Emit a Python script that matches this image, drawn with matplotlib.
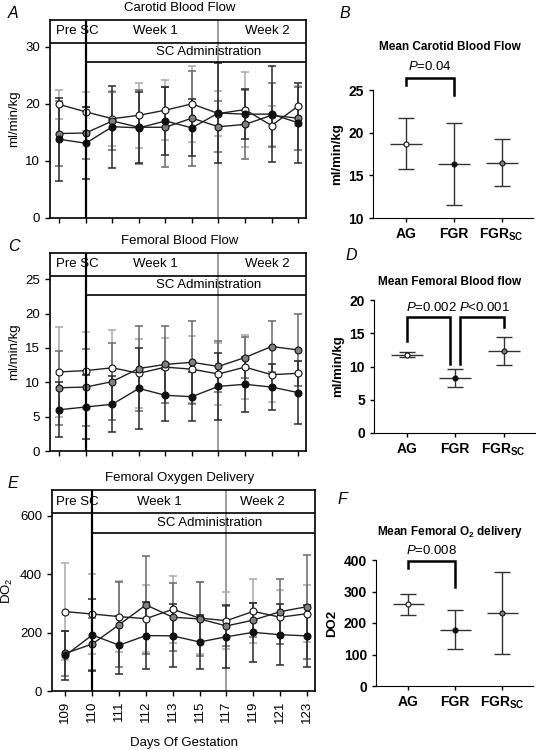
import numpy as np
import matplotlib
matplotlib.use("Agg")
import matplotlib.pyplot as plt

plt.rcParams['font.family'] = ['Liberation Sans', 'DejaVu Sans']
plt.rcParams['mathtext.fontset'] = 'custom'
plt.rcParams['mathtext.rm'] = 'Liberation Sans'
plt.rcParams['mathtext.it'] = 'Liberation Sans:italic'
plt.rcParams['mathtext.bf'] = 'Liberation Sans:bold'

# Data
days = ['109', '110', '111', '112', '113', '115', '117', '119', '121', '123']
groups = ['AG', 'FGR', r'FGR$_{\mathbf{SC}}$']

# Carotid blood flow (ml/min/kg)
car_ag = [19.9, 18.6, 17.4, 18.0, 18.9, 20.0, 18.3, 19.0, 16.2, 19.6]
car_ag_sd = [2.5, 3.4, 4.8, 5.7, 5.2, 6.6, 3.9, 6.5, 3.5, 3.5]
car_fgr = [13.8, 13.1, 16.0, 15.8, 17.0, 15.8, 18.4, 18.2, 18.2, 16.7]
car_fgr_sd = [7.3, 6.3, 7.2, 6.2, 6.0, 5.0, 8.8, 4.4, 8.4, 7.0]
car_sc = [14.8, 14.9, 17.0, 15.9, 15.9, 17.5, 16.0, 16.4, 18.0, 17.5]
car_sc_sd = [5.7, 4.6, 5.0, 6.5, 7.0, 8.3, 4.5, 6.1, 5.6, 5.5]

# Femoral blood flow (ml/min/kg)
fem_ag = [11.5, 11.7, 12.1, 11.3, 12.2, 11.9, 11.2, 12.2, 11.1, 11.3]
fem_ag_sd = [6.6, 5.6, 5.5, 5.0, 4.2, 4.9, 4.5, 4.7, 4.0, 1.8]
fem_fgr = [6.0, 6.4, 6.8, 9.1, 8.1, 7.9, 9.4, 9.7, 9.3, 8.5]
fem_fgr_sd = [4.0, 4.6, 4.1, 5.9, 3.8, 3.6, 4.9, 4.0, 3.3, 4.6]
fem_sc = [9.2, 9.3, 10.1, 12.0, 12.6, 12.9, 12.3, 13.6, 15.2, 14.7]
fem_sc_sd = [5.4, 5.6, 5.6, 6.2, 5.6, 6.0, 3.7, 3.0, 3.7, 5.2]

# Femoral oxygen delivery (DO2)
do2_ag = [272, 264, 255, 248, 280, 250, 241, 273, 253, 265]
do2_ag_sd = [166, 137, 123, 115, 114, 123, 97, 110, 93, 98]
do2_fgr = [122, 192, 157, 190, 189, 168, 186, 201, 193, 189]
do2_fgr_sd = [84, 123, 100, 116, 108, 94, 108, 100, 104, 106]
do2_sc = [129, 161, 227, 295, 253, 247, 223, 243, 272, 289]
do2_sc_sd = [78, 90, 146, 169, 116, 126, 68, 58, 111, 178]

# Group means +/- SD
mean_car = [18.7, 16.3, 16.5]
mean_car_lo = [15.8, 11.5, 13.8]
mean_car_hi = [21.7, 21.1, 19.3]
mean_fem = [11.8, 8.2, 12.3]
mean_fem_lo = [11.4, 6.9, 10.2]
mean_fem_hi = [12.2, 9.6, 14.4]
mean_do2 = [259, 179, 233]
mean_do2_lo = [226, 116, 103]
mean_do2_hi = [292, 240, 362]

W, H = 540, 750
fig = plt.figure(figsize=(W / 100, H / 100), dpi=100)


def box(l, t, r, b):
    return [l / W, 1 - b / H, (r - l) / W, (b - t) / H]


face = {'ag': 'white', 'fgr': '#111111', 'sc': '#808080'}
ebc = {'ag': '#a8a8a8', 'fgr': '#2a2a2a', 'sc': '#6a6a6a'}


def time_panel(rect, series, ylim, yticks, xlim, txt_x, ylabel, title, letter, show_x=False):
    ax = fig.add_axes(box(*rect))
    x = np.arange(len(days))
    for key, m, sd in series:
        ax.errorbar(x, m, yerr=sd, fmt='none', ecolor=ebc[key], elinewidth=1.1,
                    capsize=3, capthick=1.1, zorder=2)
    for key, m, sd in series:
        ax.plot(x, m, '-', color='#222222', lw=1.0, zorder=3)
        ax.plot(x, m, 'o', ms=5, mfc=face[key], mec='#111111', mew=0.8, zorder=4)
    ax.set_xlim(*xlim)
    ax.set_ylim(*ylim)
    ax.set_yticks(yticks)
    ax.set_xticks(x)
    if show_x:
        ax.set_xticklabels(days, rotation=90, fontsize=9)
        ax.set_xlabel('Days Of Gestation', fontsize=9.5, labelpad=10)
    else:
        ax.set_xticklabels([])
    ax.tick_params(direction='out', length=3.5, width=1, labelsize=9.5)
    for s in ax.spines.values():
        s.set_linewidth(1.2)
    ax.set_ylabel(ylabel, fontsize=9.5)
    # header boxes
    tr = ax.get_xaxis_transform()
    ax.axvline(1, color='black', lw=1.6, zorder=5)
    ax.axvline(6, color='#8c8c8c', lw=1.2, zorder=1)
    ax.axhline(ylim[0] + 0.886 * (ylim[1] - ylim[0]), color='black', lw=1.2)
    ax.plot([1, xlim[1]], [0.787, 0.787], color='black', lw=1.2, transform=tr)
    ax.text(txt_x[0], 0.942, 'Pre SC', transform=ax.transAxes, ha='center', va='center', fontsize=9.5)
    ax.text(txt_x[1], 0.942, 'Week 1', transform=ax.transAxes, ha='center', va='center', fontsize=9.5)
    ax.text(txt_x[2], 0.942, 'Week 2', transform=ax.transAxes, ha='center', va='center', fontsize=9.5)
    ax.text(txt_x[3], 0.836, 'SC Administration', transform=ax.transAxes, ha='center', va='center', fontsize=9.5)
    l, t = rect[0], rect[1]
    fig.text(180 / W, 1 - (t - 12) / H, title, ha='center', va='center', fontsize=9.5)
    fig.text(8 / W, 1 - (t - 6) / H, letter, ha='left', va='center', fontsize=11.5, style='italic')
    return ax


def mean_panel(rect, m, lo, hi, ylim, yticks, ylabel, title, title_y, letter, letter_xy):
    ax = fig.add_axes(box(*rect))
    x = np.arange(3)
    m = np.array(m)
    err = [m - np.array(lo), np.array(hi) - m]
    ax.errorbar(x, m, yerr=err, fmt='none', ecolor='#333333', elinewidth=1.0,
                capsize=5.5, capthick=1.0, zorder=2)
    ax.hlines(m, x - 0.33, x + 0.33, color='#333333', lw=1.0, zorder=2)
    for xi, mi, fc in zip(x, m, ['white', '#111111', '#808080']):
        ax.plot(xi, mi, 'o', ms=3.6, mfc=fc, mec='#111111', mew=0.8, zorder=3)
    ax.set_xlim(-0.68, 2.65)
    ax.set_ylim(*ylim)
    ax.set_yticks(yticks)
    ax.set_xticks(x)
    ax.set_xticklabels(groups, fontweight='bold', fontsize=10)
    ax.spines['top'].set_visible(False)
    ax.spines['right'].set_visible(False)
    ax.tick_params(direction='out', length=3, width=1, labelsize=10)
    for lab in ax.get_yticklabels():
        lab.set_fontweight('bold')
    ax.set_ylabel(ylabel, fontsize=9.5, fontweight='bold')
    fig.text(450 / W, 1 - title_y / H, title, ha='center', va='center', fontsize=8.5, fontweight='bold')
    fig.text(letter_xy[0] / W, 1 - letter_xy[1] / H, letter, ha='left', va='center', fontsize=11.5, style='italic')
    return ax


def bracket(ax, x0, x1, top, y0, y1):
    ax.plot([x0, x0, x1, x1], [y0, top, top, y1], color='black', lw=1.8, clip_on=False,
            solid_joinstyle='miter')


# Carotid
time_panel((50, 20, 306, 218),
           [('ag', car_ag, car_ag_sd), ('sc', car_sc, car_sc_sd), ('fgr', car_fgr, car_fgr_sd)],
           (0, 34.7), [0, 10, 20, 30], (-0.35, 9.3), (0.105, 0.41, 0.848, 0.62),
           'ml/min/kg', 'Carotid Blood Flow', 'A')
axb = mean_panel((373, 90, 533, 218), mean_car, mean_car_lo, mean_car_hi,
                 (10, 25), [10, 15, 20, 25], 'ml/min/kg', 'Mean Carotid Blood Flow', 47, 'B', (340, 13))
bracket(axb, 0, 1, 26.4, 25.6, 24.4)
axb.text(0.5, 27.7, r'$P$=0.04', ha='center', va='center', fontsize=9.5)

# Femoral
time_panel((50, 253, 306, 451),
           [('ag', fem_ag, fem_ag_sd), ('sc', fem_sc, fem_sc_sd), ('fgr', fem_fgr, fem_fgr_sd)],
           (0, 28.8), [0, 5, 10, 15, 20, 25], (-0.35, 9.3), (0.105, 0.41, 0.848, 0.62),
           'ml/min/kg', 'Femoral Blood Flow', 'C')
axd = mean_panel((374, 300, 535, 433), mean_fem, mean_fem_lo, mean_fem_hi,
                 (0, 20), [0, 5, 10, 15, 20], 'ml/min/kg', 'Mean Femoral Blood flow', 282, 'D', (345, 255))
bracket(axd, 0, 0.9, 17.4, 13.8, 10.4)
bracket(axd, 1.1, 2, 17.4, 10.4, 15.9)
axd.text(0.5, 18.8, r'$P$=0.002', ha='center', va='center', fontsize=9.5)
axd.text(1.6, 18.8, r'$P$<0.001', ha='center', va='center', fontsize=9.5)

# Oxygen delivery
time_panel((52, 490, 315, 691),
           [('ag', do2_ag, do2_ag_sd), ('sc', do2_sc, do2_sc_sd), ('fgr', do2_fgr, do2_fgr_sd)],
           (0, 689), [0, 200, 400, 600], (-0.5, 9.3), (0.095, 0.41, 0.80, 0.60),
           r'DO$_2$', 'Femoral Oxygen Delivery', 'E', show_x=True)
axf = mean_panel((376, 560, 533, 686), mean_do2, mean_do2_lo, mean_do2_hi,
                 (0, 400), [0, 100, 200, 300, 400], 'DO2', r'Mean Femoral O$_\mathbf{2}$ delivery', 532, 'F', (338, 500))
bracket(axf, 0, 1, 397, 375, 314)
axf.text(0.5, 429, r'$P$=0.008', ha='center', va='center', fontsize=9.5)

fig.savefig('out.png', dpi=100)
